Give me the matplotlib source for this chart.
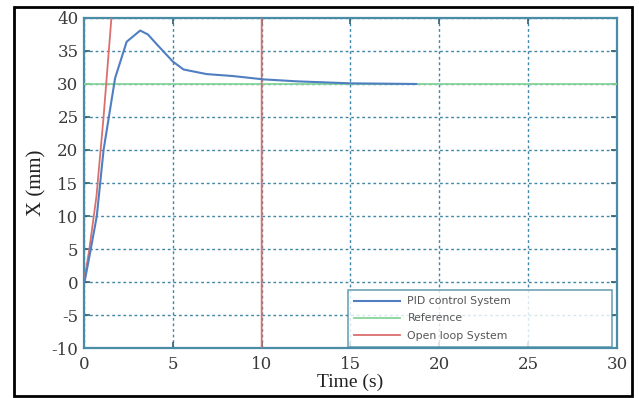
import matplotlib
matplotlib.use("Agg")
import matplotlib.pyplot as plt
from matplotlib.patches import Rectangle

plt.rcParams["axes.unicode_minus"] = False

# PID closed-loop response
pid_t = [0.0, 0.05, 0.34, 0.72, 1.1, 1.75, 2.4, 3.16, 3.6, 4.1, 5.0, 5.6, 6.9, 8.4, 10.1, 12.0, 15.0, 18.7]
pid_x = [0.0, 0.3, 4.4, 10.0, 20.0, 30.9, 36.4, 38.1, 37.5, 36.0, 33.4, 32.2, 31.5, 31.2, 30.7, 30.4, 30.1, 30.0]

# Reference set point
ref_t = [0, 30]
ref_x = [30, 30]

# Open-loop response (diverges, then flips sign at t = 10 s)
ol_t = [0.0, 0.3, 0.7, 1.1, 1.6, 10.0, 10.0]
ol_x = [0.0, 5.0, 13.0, 25.0, 42.0, 1000.0, -1000.0]

xticks = [0, 5, 10, 15, 20, 25, 30]
yticks = [-10, -5, 0, 5, 10, 15, 20, 25, 30, 35, 40]

fig = plt.figure(figsize=(6.39, 3.98), dpi=100)
ax = fig.add_axes([0.1315, 0.1256, 0.834, 0.8292])

grid_col = "#3f86a8"
spine_col = "#4a8ca6"

ax.plot(pid_t, pid_x, color="#4f7fc0", lw=1.5, label="PID control System", zorder=4)
ax.plot(ref_t, ref_x, color="#86d49a", lw=1.3, label="Reference", zorder=3)
ax.plot(ol_t, ol_x, color="#d9706e", lw=1.3, label="Open loop System", zorder=3)

ax.set_xlim(0, 30)
ax.set_ylim(-10, 40)
ax.set_xticks(xticks)
ax.set_yticks(yticks)
ax.grid(True, color=grid_col, linestyle=(0, (2, 2)), linewidth=1.0)
for s in ax.spines.values():
    s.set_color(spine_col)
    s.set_linewidth(1.6)
ax.tick_params(direction="in", length=4, width=1.2, color="#2f5f70",
               top=True, right=True, labelsize=12, labelcolor="#3a3a3a")
ax.tick_params(axis="x", pad=6)
ax.tick_params(axis="y", pad=4)
for lab in ax.get_xticklabels() + ax.get_yticklabels():
    lab.set_fontfamily("DejaVu Serif")

ax.set_xlabel("Time (s)", family="Liberation Serif", fontsize=14, color="#222222", labelpad=0)
ax.set_ylabel("X (mm)", family="Liberation Serif", fontsize=15, color="#222222", labelpad=4)

leg = ax.legend(loc="lower left", bbox_to_anchor=(0.495, 0.003, 0.495, 0.179),
                mode="expand", fontsize=7.8, frameon=True, fancybox=False,
                handlelength=4.2, handletextpad=0.7, borderpad=0.6,
                labelspacing=0.65, borderaxespad=0.0)
leg.get_frame().set_edgecolor(spine_col)
leg.get_frame().set_linewidth(1.2)
for t in leg.get_texts():
    t.set_color("#555555")

fig.patches.append(Rectangle((14 / 639, 1 - 396 / 398), 618 / 639, 389 / 398,
                             transform=fig.transFigure, fill=False,
                             edgecolor="black", linewidth=2))

fig.savefig("out.png", dpi=100)
